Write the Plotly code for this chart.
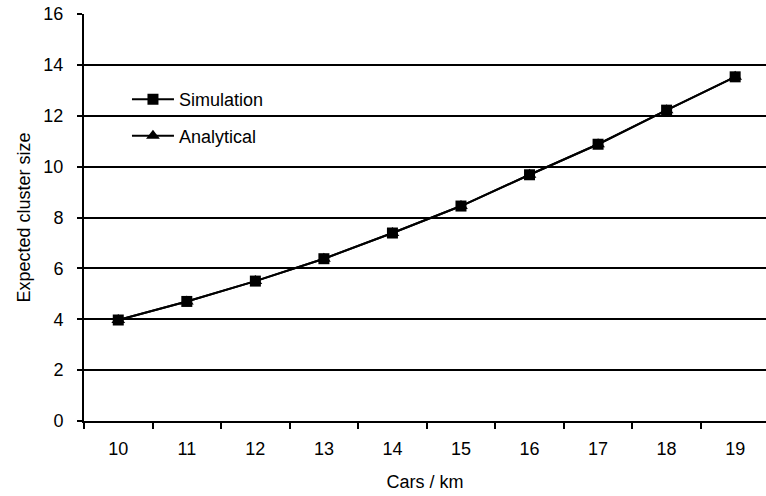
import plotly.graph_objects as go

# Data
cars_per_km = ["10", "11", "12", "13", "14", "15", "16", "17", "18", "19"]
simulation = [3.97, 4.70, 5.50, 6.38, 7.39, 8.45, 9.68, 10.88, 12.22, 13.53]
analytical = [3.97, 4.70, 5.50, 6.38, 7.39, 8.45, 9.68, 10.88, 12.22, 13.53]
y_ticks = [0, 2, 4, 6, 8, 10, 12, 14, 16]

FONT = "Liberation Sans, Arial, sans-serif"

fig = go.Figure()

# Analytical curve sits under the simulation points
fig.add_trace(
    go.Scatter(
        x=cars_per_km,
        y=analytical,
        mode="lines+markers",
        name="Analytical",
        legendgroup="b",
        legendrank=2,
        line=dict(color="black", width=2),
        marker=dict(symbol="triangle-up", size=12, color="black"),
    )
)
fig.add_trace(
    go.Scatter(
        x=cars_per_km,
        y=simulation,
        mode="lines+markers",
        name="Simulation",
        legendgroup="a",
        legendrank=1,
        line=dict(color="black", width=2),
        marker=dict(symbol="square", size=11, color="black"),
    )
)

fig.update_layout(
    width=766,
    height=496,
    margin=dict(l=84, r=0, t=14, b=75),
    paper_bgcolor="white",
    plot_bgcolor="white",
    font=dict(family=FONT, size=18, color="black"),
    showlegend=True,
    legend=dict(
        x=0.063,
        y=0.835,
        xanchor="left",
        yanchor="top",
        bgcolor="rgba(0,0,0,0)",
        font=dict(size=18),
        tracegroupgap=10,
        itemwidth=42,
    ),
    xaxis=dict(
        type="category",
        range=[-0.5, 9.45],
        tickson="boundaries",
        ticks="outside",
        ticklen=6,
        tickcolor="black",
        tickwidth=1.5,
        ticklabelstandoff=10,
        showgrid=False,
        showline=True,
        linecolor="black",
        linewidth=2,
        automargin=False,
        title=dict(text="Cars / km", font=dict(size=18), standoff=18),
    ),
    yaxis=dict(
        range=[0, 16],
        tickvals=y_ticks,
        ticks="outside",
        ticklen=5,
        tickcolor="black",
        tickwidth=1.5,
        ticklabelstandoff=10,
        showgrid=True,
        gridcolor="black",
        gridwidth=2,
        zeroline=False,
        showline=True,
        linecolor="black",
        linewidth=2,
        automargin=False,
        title=dict(text="Expected cluster size", font=dict(size=18), standoff=8),
    ),
)

# drop the default 8px page margin so the figure fills the window exactly
fig.write_html(
    "out.html",
    config={"displayModeBar": False},
    post_script="document.body.style.margin = '0';",
)
